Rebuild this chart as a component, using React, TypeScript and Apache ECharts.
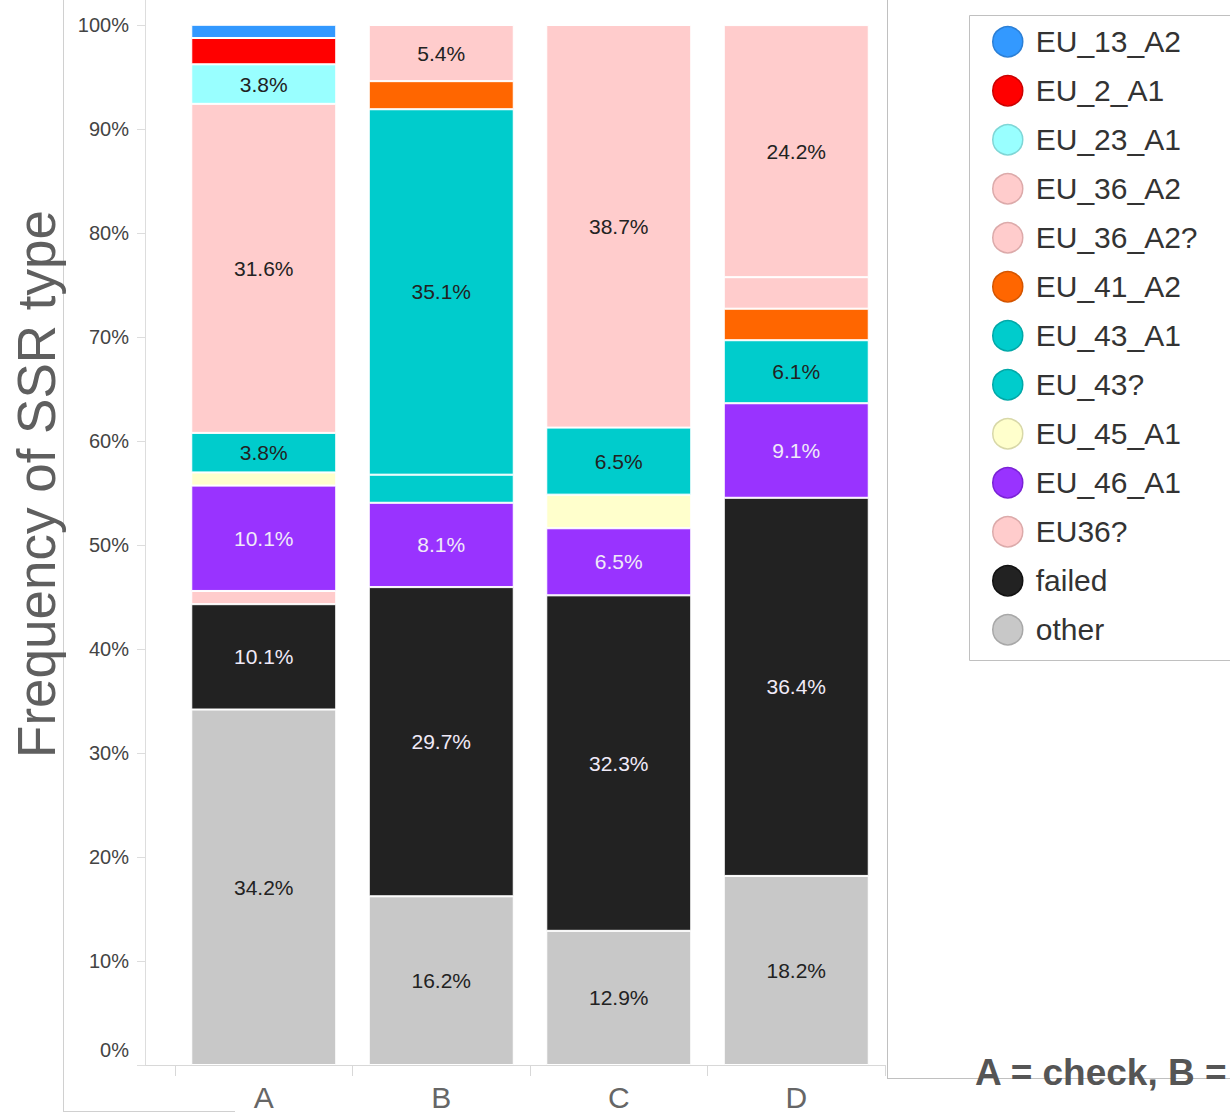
import React, { useEffect, useRef } from "react";
import * as echarts from "echarts";

const categories = ["A", "B", "C", "D"];

// stacking order: bottom -> top
const seriesNames = [
  "other",
  "failed",
  "EU36?",
  "EU_46_A1",
  "EU_45_A1",
  "EU_43?",
  "EU_43_A1",
  "EU_41_A2",
  "EU_36_A2?",
  "EU_36_A2",
  "EU_23_A1",
  "EU_2_A1",
  "EU_13_A2",
];

// legend order: top -> bottom
const legendOrder = [
  "EU_13_A2",
  "EU_2_A1",
  "EU_23_A1",
  "EU_36_A2",
  "EU_36_A2?",
  "EU_41_A2",
  "EU_43_A1",
  "EU_43?",
  "EU_45_A1",
  "EU_46_A1",
  "EU36?",
  "failed",
  "other",
];

// percentages per category A, B, C, D (null = absent)
const other = [34.18, 16.22, 12.9, 18.18];
const failed = [10.13, 29.73, 32.26, 36.36];
const eu36q = [1.27, null, null, null];
const eu46a1 = [10.13, 8.11, 6.45, 9.09];
const eu45a1 = [1.27, null, 3.23, null];
const eu43q = [null, 2.7, null, null];
const eu43a1 = [3.8, 35.14, 6.45, 6.06];
const eu41a2 = [null, 2.7, null, 3.03];
const eu36a2q = [null, null, null, 3.03];
const eu36a2 = [31.64, 5.4, 38.71, 24.24];
const eu23a1 = [3.8, null, null, null];
const eu2a1 = [2.53, null, null, null];
const eu13a2 = [1.27, null, null, null];

const seriesValues: (number | null)[][] = [
  other,
  failed,
  eu36q,
  eu46a1,
  eu45a1,
  eu43q,
  eu43a1,
  eu41a2,
  eu36a2q,
  eu36a2,
  eu23a1,
  eu2a1,
  eu13a2,
];

const fillColors: Record<string, string> = {
  EU_13_A2: "#3399ff",
  EU_2_A1: "#ff0000",
  EU_23_A1: "#99ffff",
  EU_36_A2: "#ffcccc",
  "EU_36_A2?": "#ffcccc",
  EU_41_A2: "#ff6600",
  EU_43_A1: "#00cccc",
  "EU_43?": "#00cccc",
  EU_45_A1: "#ffffcc",
  EU_46_A1: "#9933ff",
  "EU36?": "#ffcccc",
  failed: "#222222",
  other: "#c8c8c8",
};

const legendBorders: Record<string, string> = {
  EU_13_A2: "#2b7fd6",
  EU_2_A1: "#cc0000",
  EU_23_A1: "#7fd6d6",
  EU_36_A2: "#dcaaaa",
  "EU_36_A2?": "#dcaaaa",
  EU_41_A2: "#d45500",
  EU_43_A1: "#00a8a8",
  "EU_43?": "#00a8a8",
  EU_45_A1: "#d8d8a8",
  EU_46_A1: "#7a22d6",
  "EU36?": "#dcaaaa",
  failed: "#111111",
  other: "#a8a8a8",
};

const lightLabelSeries = ["failed", "EU_46_A1"];

const yAxisTitle = "Frequency of SSR type";
const footnote = "A = check, B =";

const FONT = "'Liberation Sans', Arial, sans-serif";

export default function App() {
  const ref = useRef<HTMLDivElement>(null);

  useEffect(() => {
    document.body.style.margin = "0";
    if (!ref.current) return;
    const chart = echarts.init(ref.current, null, { renderer: "svg" });

    const series = seriesNames.map((name, i) => ({
      name,
      type: "bar",
      stack: "total",
      barWidth: 145,
      data: seriesValues[i].map((v) => (v == null ? "-" : v)),
      itemStyle: {
        color: fillColors[name],
        borderColor: "#ffffff",
        borderWidth: 1,
      },
      label: {
        show: true,
        position: "inside",
        fontFamily: FONT,
        fontSize: 21,
        color: lightLabelSeries.includes(name) ? "#f0eaf8" : "#222222",
        formatter: (p: any) =>
          typeof p.value === "number" && p.value >= 3.5
            ? p.value.toFixed(1) + "%"
            : "",
      },
      emphasis: { disabled: true },
    }));

    chart.setOption({
      animation: false,
      textStyle: { fontFamily: FONT },
      grid: { left: 175, right: 345, top: 25, bottom: 50 },
      xAxis: {
        type: "category",
        data: categories,
        boundaryGap: true,
        axisLine: { show: false },
        axisTick: {
          show: true,
          length: 11,
          lineStyle: { color: "#d8d8d8", width: 1 },
        },
        axisLabel: {
          fontFamily: FONT,
          fontSize: 30,
          color: "#666666",
          margin: 17,
        },
      },
      yAxis: {
        type: "value",
        min: 0,
        max: 100,
        interval: 10,
        offset: 30,
        splitLine: { show: false },
        axisLine: { show: true, lineStyle: { color: "#dddddd", width: 1 } },
        axisTick: {
          show: true,
          length: 8,
          lineStyle: { color: "#dddddd", width: 1 },
        },
        axisLabel: {
          fontFamily: FONT,
          fontSize: 20,
          color: "#444444",
          margin: 16,
          formatter: (v: number) => (v === 0 ? "{z|0%}" : v + "%"),
          rich: {
            z: {
              fontFamily: FONT,
              fontSize: 20,
              color: "#444444",
              padding: [0, 0, 30, 0],
            },
          },
        },
      },
      legend: {
        orient: "vertical",
        left: 987,
        top: 21,
        itemWidth: 46,
        itemHeight: 30,
        itemGap: 17.5,
        icon: "circle",
        selectedMode: false,
        textStyle: {
          fontFamily: FONT,
          fontSize: 30,
          lineHeight: 30,
          color: "#333333",
        },
        data: legendOrder.map((n) => ({
          name: n,
          itemStyle: {
            color: fillColors[n],
            borderColor: legendBorders[n],
            borderWidth: 1.5,
          },
        })),
      },
      graphic: [
        // outer frame lines
        {
          type: "line",
          shape: { x1: 63.5, y1: 0, x2: 63.5, y2: 1111.5 },
          style: { stroke: "#d0d0d0", lineWidth: 1 },
          silent: true,
        },
        {
          type: "line",
          shape: { x1: 63, y1: 1111.5, x2: 235, y2: 1111.5 },
          style: { stroke: "#d0d0d0", lineWidth: 1 },
          silent: true,
        },
        {
          type: "line",
          shape: { x1: 887.5, y1: 0, x2: 887.5, y2: 1078.5 },
          style: { stroke: "#c0c0c0", lineWidth: 1 },
          silent: true,
        },
        {
          type: "line",
          shape: { x1: 887, y1: 1078.5, x2: 1230, y2: 1078.5 },
          style: { stroke: "#c0c0c0", lineWidth: 1 },
          silent: true,
        },
        // y axis extension above 100%
        {
          type: "line",
          shape: { x1: 145.5, y1: 0, x2: 145.5, y2: 25 },
          style: { stroke: "#dddddd", lineWidth: 1 },
          silent: true,
        },
        // x axis line
        {
          type: "line",
          shape: { x1: 137, y1: 1065.5, x2: 885, y2: 1065.5 },
          style: { stroke: "#d8d8d8", lineWidth: 1 },
          silent: true,
        },
        // legend box
        {
          type: "rect",
          shape: { x: 969.5, y: 15.5, width: 300, height: 645 },
          style: { fill: "none", stroke: "#c0c0c0", lineWidth: 1 },
          silent: true,
          z: -1,
        },
        // y axis title
        {
          type: "text",
          x: 36,
          y: 484,
          rotation: Math.PI / 2,
          style: {
            text: yAxisTitle,
            fontFamily: FONT,
            fontSize: 53,
            fill: "#5f5f5f",
            align: "center",
            verticalAlign: "middle",
          },
          silent: true,
        },
        // footnote
        {
          type: "text",
          x: 975,
          y: 1072,
          style: {
            text: footnote,
            fontFamily: FONT,
            fontWeight: "bold",
            fontSize: 37,
            fill: "#555555",
            align: "left",
            verticalAlign: "middle",
          },
          silent: true,
        },
      ],
      series,
    });

    return () => chart.dispose();
  }, []);

  return <div ref={ref} style={{ width: 1230, height: 1115 }} />;
}
